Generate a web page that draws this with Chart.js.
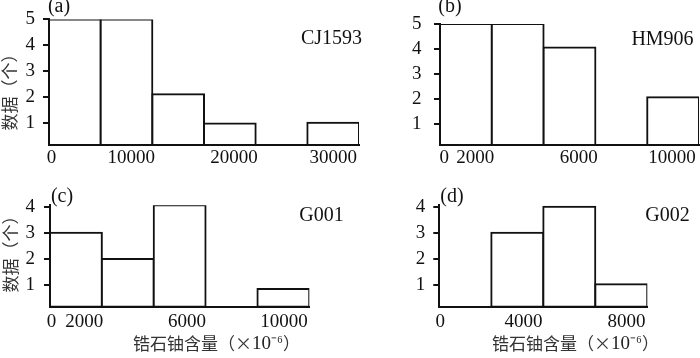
<!DOCTYPE html>
<html>
<head>
<meta charset="utf-8">
<script src="https://cdn.jsdelivr.net/npm/chart.js@4.4.1/dist/chart.umd.min.js"></script>
<style>
html, body { margin: 0; padding: 0; background: #fff; }
#wrap { position: relative; width: 700px; height: 358px; overflow: hidden; background: #fff; }
#wrap canvas { position: absolute; }
</style>
</head>
<body>
<div id="wrap">
  <canvas id="pa"></canvas>
  <canvas id="pb"></canvas>
  <canvas id="pc"></canvas>
  <canvas id="pd"></canvas>
</div>
<script>
// ---------------- data ----------------
const binsA = ['1', '2', '3', '4', '5', '6'];
const binsB = ['1', '2', '3', '4', '5'];
const binsC = ['1', '2', '3', '4', '5'];
const binsD = ['1', '2', '3', '4'];

const countsA = [5, 5, 2.1, 0.97, 0, 1.0];
const countsB = [5, 5, 4.05, 0, 2.05];
const countsC = [3, 2, 4.06, 0, 0.85];
const countsD = [0, 3, 4, 1.03];

const xLabelsA = ['0', '10000', '20000', '30000'];
const xLabelsB = ['0', '2000', '6000', '10000'];
const xLabelsC = ['0', '2000', '6000', '10000'];
const xLabelsD = ['0', '4000', '8000'];

const yTicksAB = [1, 2, 3, 4, 5];
const yTicksCD = [1, 2, 3, 4];

const sampleNames = ['CJ1593', 'HM906', 'G001', 'G002'];
const panelTags = ['(a)', '(b)', '(c)', '(d)'];
const yTitle = '数据（个）';
const xTitleMain = '锆石铀含量';
const xTitleUnit = ['（', '×', '10', '⁻⁶', '）'];

// ---------------- layout / styling ----------------
const SERIF = "'Liberation Serif', 'Times New Roman', serif";
const CJK = "'Noto Sans CJK SC'";
const INK = '#111';

function xTitleParts() {
  return [
    { text: xTitleMain, font: '17px ' + CJK, color: '#333' },
    { text: xTitleUnit[0], font: '17px ' + CJK, color: '#333' },
    { text: xTitleUnit[1], font: '17px ' + CJK, color: '#333' },
    { text: xTitleUnit[2], font: '19px ' + SERIF, color: '#222' },
    { text: xTitleUnit[3], font: '17px ' + SERIF, color: '#222' },
    { text: xTitleUnit[4], font: '17px ' + CJK, color: '#333' }
  ];
}

const panels = [
  { id: 'pa', left: 0, top: 0, w: 375, h: 175, L: 49, R: 359, T: 19.3, B: 145.06,
    yMin: 0.135, yMax: 5, bins: binsA, counts: countsA, xLabels: xLabelsA, yTicks: yTicksAB,
    xTickPos: [0.05, 1.59, 3.58, 5.5], xPad: 2, yPad: 8,
    texts: [
      { text: panelTags[0], x: 59, y: 7, font: '20px ' + SERIF },
      { text: sampleNames[0], x: 331.5, y: 39, font: '20px ' + SERIF },
      { text: yTitle, x: 10, y: 88, font: '17px ' + CJK, color: '#333', rot: -Math.PI / 2 }
    ] },
  { id: 'pb', left: 375, top: 0, w: 325, h: 175, L: 440, R: 699, T: 19.3, B: 145.06,
    yMin: 0.135, yMax: 5, bins: binsB, counts: countsB, xLabels: xLabelsB, yTicks: yTicksAB,
    xTickPos: [0.08, 0.68, 2.68, 4.48], xPad: 2, yPad: 12.5,
    texts: [
      { text: panelTags[1], x: 450, y: 7, font: '20px ' + SERIF },
      { text: sampleNames[1], x: 662.5, y: 40, font: '20px ' + SERIF }
    ] },
  { id: 'pc', left: 0, top: 175, w: 375, h: 183, L: 50, R: 309.3, T: 205.2, B: 306.7,
    yMin: 0.17, yMax: 4.06, bins: binsC, counts: countsC, xLabels: xLabelsC, yTicks: yTicksCD,
    xTickPos: [0.03, 0.66, 2.64, 4.51], xPad: 4, yPad: 9,
    texts: [
      { text: panelTags[2], x: 62, y: 197, font: '20px ' + SERIF },
      { text: sampleNames[2], x: 321.5, y: 216, font: '20px ' + SERIF },
      { text: yTitle, x: 11, y: 250, font: '17px ' + CJK, color: '#333', rot: -Math.PI / 2 },
      { parts: xTitleParts(), x: 133, y: 344 }
    ] },
  { id: 'pd', left: 375, top: 175, w: 325, h: 183, L: 439.3, R: 647.3, T: 205.2, B: 306.7,
    yMin: 0.17, yMax: 4.06, bins: binsD, counts: countsD, xLabels: xLabelsD, yTicks: yTicksCD,
    xTickPos: [0.02, 1.62, 3.6], xPad: 4, yPad: 8,
    texts: [
      { text: panelTags[3], x: 452, y: 197, font: '20px ' + SERIF },
      { text: sampleNames[3], x: 667.5, y: 216, font: '20px ' + SERIF },
      { parts: xTitleParts(), x: 492, y: 344 }
    ] }
];

const textPlugin = {
  id: 'panelText',
  afterDraw(chart, args, opts) {
    const ctx = chart.ctx;
    (opts.items || []).forEach(t => {
      ctx.save();
      ctx.textBaseline = 'middle';
      ctx.translate(t.x, t.y);
      if (t.parts) {
        ctx.textAlign = 'left';
        let x = 0;
        t.parts.forEach(pt => {
          ctx.font = pt.font;
          ctx.fillStyle = pt.color || INK;
          ctx.fillText(pt.text, x, 0);
          x += ctx.measureText(pt.text).width;
        });
      } else {
        ctx.font = t.font;
        ctx.fillStyle = t.color || INK;
        ctx.textAlign = t.align || 'center';
        if (t.rot) ctx.rotate(t.rot);
        ctx.fillText(t.text, 0, 0);
      }
      ctx.restore();
    });
  }
};

function makeChart(p) {
  const c = document.getElementById(p.id);
  c.width = p.w; c.height = p.h;
  c.style.left = p.left + 'px'; c.style.top = p.top + 'px';
  c.style.width = p.w + 'px'; c.style.height = p.h + 'px';
  const L = p.L - p.left, R = p.R - p.left, T = p.T - p.top, B = p.B - p.top;
  const tickFont = { family: SERIF, size: 19 };
  const items = p.texts.map(t => Object.assign({}, t, { x: t.x - p.left, y: t.y - p.top }));

  new Chart(c, {
    type: 'bar',
    data: {
      labels: p.bins,
      datasets: [{
        data: p.counts.map(v => (v > 0 ? v : null)),
        xAxisID: 'x', yAxisID: 'y',
        base: p.yMin,
        backgroundColor: '#fff',
        borderColor: INK,
        borderWidth: 2,
        borderSkipped: false,
        inflateAmount: 1,
        barPercentage: 1,
        categoryPercentage: 1
      }]
    },
    options: {
      responsive: false,
      animation: false,
      devicePixelRatio: 1,
      layout: { padding: { left: 0, top: T, right: p.w - R, bottom: 0 } },
      plugins: {
        legend: { display: false },
        tooltip: { enabled: false },
        panelText: { items: items }
      },
      scales: {
        x: {
          type: 'category', axis: 'x', position: 'bottom', offset: true,
          grid: { display: false, drawTicks: false },
          ticks: { display: false },
          border: { display: true, color: INK, width: 2 },
          afterFit: s => { s.height = 0; }
        },
        xl: {
          type: 'linear', axis: 'x', position: 'bottom', offset: false,
          min: 0, max: p.counts.length,
          grid: { display: false, drawTicks: false, offset: false },
          border: { display: false },
          ticks: {
            autoSkip: false, maxRotation: 0, minRotation: 0,
            padding: p.xPad, font: tickFont, color: INK,
            callback: (v, i) => p.xLabels[i]
          },
          afterBuildTicks: s => { s.ticks = p.xTickPos.map(v => ({ value: v })); },
          afterFit: s => { s.height = p.h - B; }
        },
        y: {
          type: 'linear', position: 'left',
          min: p.yMin, max: p.yMax,
          grid: { display: true, drawOnChartArea: false, drawTicks: true, tickLength: 6, color: INK, lineWidth: 2 },
          border: { display: true, color: INK, width: 2 },
          ticks: { padding: p.yPad, font: tickFont, color: INK, autoSkip: false },
          afterBuildTicks: s => { s.ticks = p.yTicks.map(v => ({ value: v })); },
          afterFit: s => { s.width = L; }
        }
      }
    },
    plugins: [textPlugin]
  });
}

panels.forEach(makeChart);
</script>
</body>
</html>
